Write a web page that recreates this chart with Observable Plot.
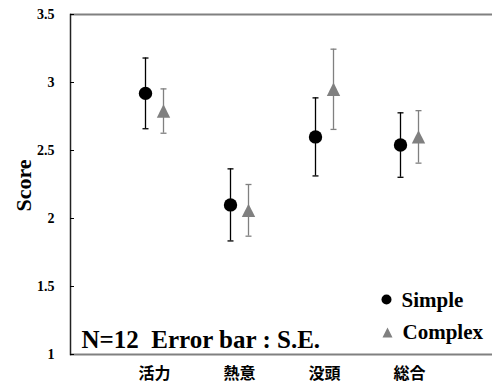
<!DOCTYPE html>
<html><head><meta charset="utf-8">
<script src="https://cdn.jsdelivr.net/npm/d3@7"></script>
<script src="https://cdn.jsdelivr.net/npm/@observablehq/plot@0.6"></script>
<style>body{margin:0;background:#fff} svg text{white-space:pre}</style>
</head><body><div id="chart"></div>
<script>
const categories = ["活力", "熱意", "没頭", "総合"];
const simpleMean = [2.92, 2.10, 2.60, 2.54];
const simpleSE = [0.26, 0.265, 0.287, 0.237];
const complexMean = [2.79, 2.06, 2.95, 2.60];
const complexSE = [0.163, 0.19, 0.295, 0.193];
const yTicks = [1, 1.5, 2, 2.5, 3, 3.5];
const seriesNames = ["Simple", "Complex"];
const annotation = "N=12\u00a0 Error bar : S.E.";
const yLabel = "Score";

const build = (means, ses) => categories.map((c, i) => ({cat: c, mean: means[i], lo: means[i] - ses[i], hi: means[i] + ses[i]}));
const simple = build(simpleMean, simpleSE);
const complex = build(complexMean, complexSE);

const capSymbol = {draw(ctx, size) { const r = Math.sqrt(size / Math.PI); ctx.moveTo(-r, 0); ctx.lineTo(r, 0); }};
const triSymbol = {draw(ctx, size) { const r = Math.sqrt(size / Math.PI); ctx.moveTo(0, -r); ctx.lineTo(r, r); ctx.lineTo(-r, r); ctx.closePath(); }};

const gray = "#808080";
const serif = "'Liberation Serif', 'Times New Roman', Times, serif";
const off = 9;

const chart = Plot.plot({
  width: 492, height: 383,
  marginLeft: 70, marginRight: 0, marginTop: 14, marginBottom: 29,
  style: {fontFamily: serif, background: "#fff", color: "#000"},
  x: {type: "point", domain: categories, padding: 0.98},
  y: {domain: [1, 3.5]},
  marks: [
    Plot.ruleY([3.5], {stroke: gray, strokeWidth: 2}),
    Plot.ruleY([1], {stroke: gray, strokeWidth: 2}),
    Plot.frame({anchor: "left", stroke: "#222", strokeWidth: 1.5}),
    Plot.axisY({ticks: yTicks, tickSize: -4, tickPadding: 20, label: null, tickFormat: d => String(d), fontSize: 14, fontWeight: "bold", fontFamily: serif}),
    Plot.axisX({tickSize: 0, tickPadding: 13, label: null, fontSize: 16, fontWeight: "bold", fontFamily: "'Noto Sans CJK JP', sans-serif"}),
    // Simple error bars
    Plot.ruleX(simple, {x: "cat", y1: "lo", y2: "hi", stroke: "#000", strokeWidth: 1.3, dx: -off}),
    Plot.dot(simple, {x: "cat", y: "hi", symbol: capSymbol, r: 3, stroke: "#000", strokeWidth: 1.3, dx: -off}),
    Plot.dot(simple, {x: "cat", y: "lo", symbol: capSymbol, r: 3, stroke: "#000", strokeWidth: 1.3, dx: -off}),
    // Complex error bars
    Plot.ruleX(complex, {x: "cat", y1: "lo", y2: "hi", stroke: gray, strokeWidth: 1.3, dx: off}),
    Plot.dot(complex, {x: "cat", y: "hi", symbol: capSymbol, r: 3, stroke: gray, strokeWidth: 1.3, dx: off}),
    Plot.dot(complex, {x: "cat", y: "lo", symbol: capSymbol, r: 3, stroke: gray, strokeWidth: 1.3, dx: off}),
    // markers
    Plot.dot(simple, {x: "cat", y: "mean", r: 6.7, fill: "#000", dx: -off}),
    Plot.dot(complex, {x: "cat", y: "mean", r: 6.7, symbol: triSymbol, fill: gray, dx: off}),
    // y label
    Plot.text([yLabel], {text: d => d, frameAnchor: "left", textAnchor: "middle", dx: -47, dy: 1, rotate: -90, fontSize: 22, fontWeight: "bold", fontFamily: serif}),
    // annotation
    Plot.text([annotation], {text: d => d, frameAnchor: "bottom-left", dx: 11, dy: -7, textAnchor: "start", fontSize: 25, fontWeight: "bold", fontFamily: serif}),
    // legend
    Plot.dot([seriesNames[0]], {frameAnchor: "bottom-right", dx: -106, dy: -55, r: 5, fill: "#000"}),
    Plot.text([seriesNames[0]], {text: d => d, frameAnchor: "bottom-right", dx: -91, dy: -48, textAnchor: "start", fontSize: 21, fontWeight: "bold", fontFamily: serif}),
    Plot.dot([seriesNames[1]], {frameAnchor: "bottom-right", dx: -105, dy: -22, r: 5, symbol: triSymbol, fill: gray}),
    Plot.text([seriesNames[1]], {text: d => d, frameAnchor: "bottom-right", dx: -90, dy: -16, textAnchor: "start", fontSize: 21, fontWeight: "bold", fontFamily: serif})
  ]
});
document.getElementById("chart").appendChild(chart);
</script>
</body></html>
